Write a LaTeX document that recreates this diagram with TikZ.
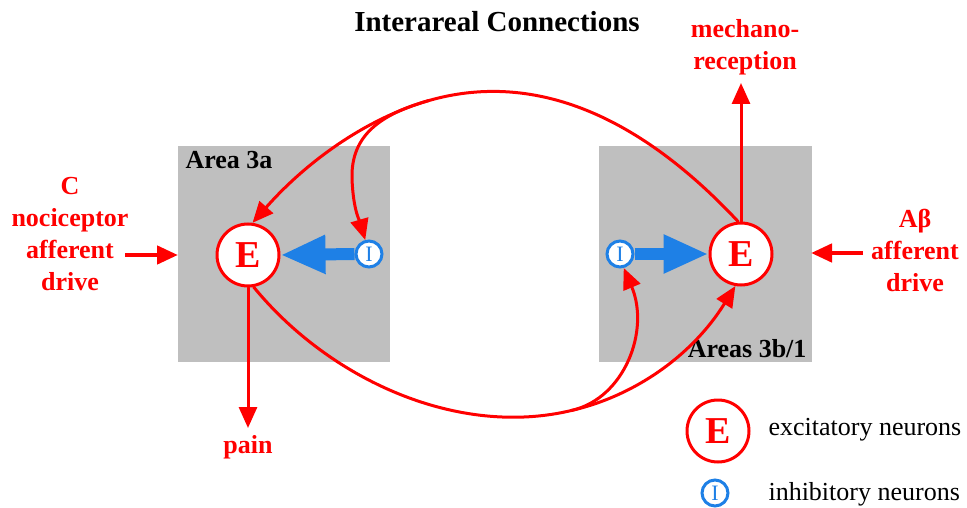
\documentclass[tikz,border=0pt]{standalone}
\usepackage{fontspec}
\setmainfont{Liberation Serif}
\usetikzlibrary{arrows.meta}
\definecolor{nred}{RGB}{255,0,0}
\definecolor{nblue}{RGB}{30,128,230}
\definecolor{areagray}{RGB}{191,191,191}

\begin{document}
\begin{tikzpicture}[x=1pt,y=-1pt,
    exc/.style={circle,draw=nred,fill=white,line width=3pt,minimum size=62pt,inner sep=0pt,
        text=nred,font=\fontsize{38}{38}\selectfont\bfseries},
    inh/.style={circle,draw=nblue,fill=white,line width=3pt,minimum size=26pt,inner sep=0pt,
        text=nblue,font=\fontsize{22}{22}\selectfont},
    redline/.style={draw=nred,line width=3pt,line cap=round},
    redarrow/.style={redline,-{Triangle[length=21pt,width=18pt]}},
    drivearrow/.style={redarrow,line width=4.5pt,line cap=butt},
    bluearrow/.style={draw=nblue,line width=12pt,-{Triangle[length=45pt,width=36pt]}},
    redlabel/.style={text=nred,align=center,font=\fontsize{26}{32}\selectfont\bfseries},
    arealabel/.style={font=\fontsize{26}{26}\selectfont\bfseries},
    legendtext/.style={anchor=base west,font=\fontsize{26}{26}\selectfont}]
    \useasboundingbox (0,0) rectangle (967,508);

    % cortical areas
    \fill[areagray] (178,146) rectangle (390,362);
    \fill[areagray] (599,146) rectangle (812,362);
    \node[arealabel,anchor=base west] (area3a) at (182,168) {Area 3a};
    \node[arealabel,anchor=base east] (area3b) at (810,357) {Areas 3b/1};

    \node[anchor=base,font=\fontsize{29}{29}\selectfont\bfseries] (title) at (497,32) {Interareal Connections};

    % neurons
    \node[exc] (eL) at (248,255) {E};
    \node[inh] (iL) at (369,254) {I};
    \node[inh] (iR) at (620,254) {I};
    \node[exc] (eR) at (741,254) {E};

    \draw[bluearrow] (iL.west) -- (eL.east);
    \draw[bluearrow] (iR.east) -- (eR.west);

    % inputs and outputs
    \node[redlabel] (cdrive) at (70,234) {C\\nociceptor\\afferent\\drive};
    \node[redlabel] (abdrive) at (915,250) {Aβ\\afferent\\drive};
    \node[redlabel] (mech) at (745,47) {mechano-\\reception};
    \node[redlabel,anchor=base] (pain) at (248,453) {pain};
    \coordinate (cstart) at (125,255);
    \coordinate (cend) at (178,255);
    \coordinate (abstart) at (863,253);
    \coordinate (abend) at (811,253);
    \coordinate (mechtip) at (741,83);
    \coordinate (paintip) at (248,428);
    \draw[drivearrow] (cstart) -- (cend);
    \draw[drivearrow] (abstart) -- (abend);
    \draw[redarrow] (eR.north) -- (mechtip);
    \draw[redarrow] (eL.south) -- (paintip);

    % interareal loops, each splitting in two
    \coordinate (topsplit) at (429,100.5);
    \coordinate (botsplit) at (571.8,410.4);
    \draw[redline] (eR.95) .. controls (634,110) and (529,72) .. (topsplit);
    \draw[redarrow] (topsplit) .. controls (368,118) and (308,160) .. (eL.82);
    \draw[redarrow] (topsplit) .. controls (381,114) and (351,135) .. (352,178)
        .. controls (353,210) and (360,222) .. (iL.105);
    \draw[redline] (eL.-80) .. controls (329,379) and (457,438) .. (botsplit);
    \draw[redarrow] (botsplit) .. controls (634,396) and (692,356) .. (eR.-100);
    \draw[redarrow] (botsplit) .. controls (625,398) and (650,330) .. (iR.-75);

    % legend
    \node[exc] (legE) at (718,431) {E};
    \node[inh] (legI) at (715,493) {I};
    \node[legendtext] (legEtext) at (765,435) {excitatory neurons};
    \node[legendtext] (legItext) at (765,500) {inhibitory neurons};
\end{tikzpicture}
\end{document}
